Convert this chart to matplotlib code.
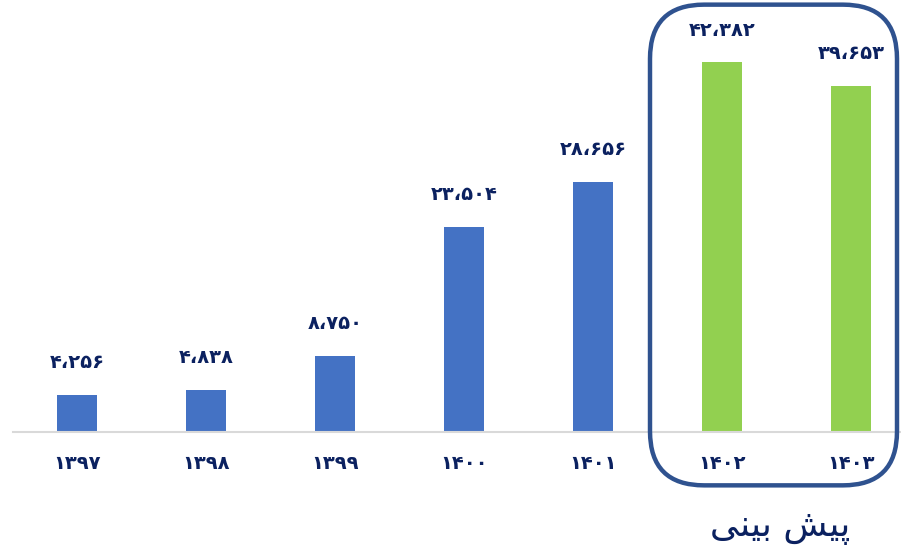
import matplotlib.pyplot as plt
from matplotlib.patches import FancyBboxPatch

# years (shown in Persian digits) and values
years = ['۱۳۹۷', '۱۳۹۸', '۱۳۹۹', '۱۴۰۰', '۱۴۰۱', '۱۴۰۲', '۱۴۰۳']
values = [4.256, 4.838, 8.750, 23.504, 28.656, 42.382, 39.653]
value_labels = ['۴،۲۵۶', '۴،۸۳۸', '۸،۷۵۰', '۲۳،۵۰۴', '۲۸،۶۵۶', '۴۲،۳۸۲', '۳۹،۶۵۳']
forecast = [False, False, False, False, False, True, True]
# "پیش بینی" written in presentation forms, visual order (matplotlib has no bidi shaping)
forecast_label = '\uFEF0\uFEE8\uFEF4\uFE91 \uFEB6\uFEF4\uFB58'

navy = '#0B2160'
colors = ['#92D050' if f else '#4472C4' for f in forecast]

fig = plt.figure(figsize=(9.01, 5.49), dpi=100)
W, H = 901, 549
# axes spans one category step of 129 px per bar
ax = fig.add_axes([12.5 / W, (H - 432) / H, 903 / W, 432 / H])
x = list(range(len(years)))
ax.bar(x, values, width=0.31, color=colors, zorder=2)
ax.set_xlim(-0.5, len(years) - 0.5)
ax.set_ylim(0, 432 / 8.73)

for xi, v, lab in zip(x, values, value_labels):
    ax.annotate(lab, (xi, v), xytext=(0, 23), textcoords='offset points',
                ha='center', va='center', fontsize=14, fontweight='bold',
                color=navy, family='DejaVu Sans')

for s in ['top', 'right', 'left']:
    ax.spines[s].set_visible(False)
ax.spines['bottom'].set_color('#D9D9D9')
ax.spines['bottom'].set_linewidth(1.5)
ax.set_yticks([])
ax.set_xticks(x)
ax.set_xticklabels(years, fontsize=14, fontweight='bold', color=navy)
ax.tick_params(axis='x', length=0, pad=16)

# rounded box around forecast years
box = FancyBboxPatch((650 / W + 0.04, (H - 485) / H + 0.065), (247 / W) - 0.08, (480 / H) - 0.13,
                     boxstyle='round,pad=0.04,rounding_size=0.06', transform=fig.transFigure,
                     fill=False, edgecolor='#2F528F', linewidth=3.2, mutation_aspect=W / H)
fig.patches.append(box)

fig.text(780 / W, 1 - 528 / H, forecast_label, ha='center', va='center',
         fontsize=26, color=navy, family='DejaVu Sans')

fig.savefig('out.png', dpi=100)
